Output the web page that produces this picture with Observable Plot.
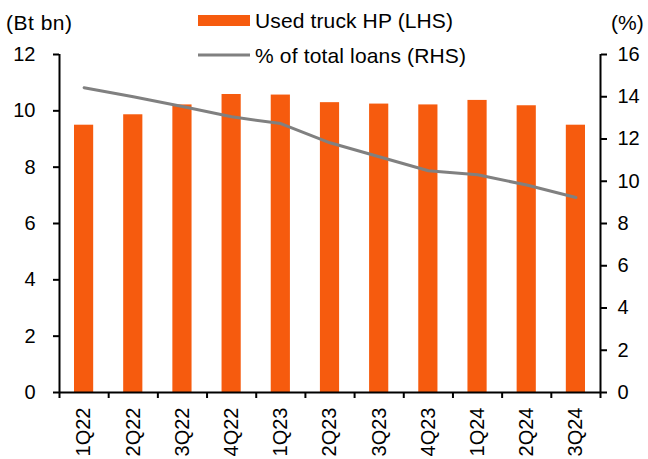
<!DOCTYPE html>
<html>
<head>
<meta charset="utf-8">
<script src="https://cdn.jsdelivr.net/npm/d3@7"></script>
<script src="https://cdn.jsdelivr.net/npm/@observablehq/plot@0.6"></script>
<style>
  html, body { margin: 0; padding: 0; background: #fff; }
  #chart { width: 648px; height: 459px; }
</style>
</head>
<body>
<div id="chart"></div>
<script>
const quarters = ["1Q22","2Q22","3Q22","4Q22","1Q23","2Q23","3Q23","4Q23","1Q24","2Q24","3Q24"];
const truckHP = [9.49, 9.86, 10.21, 10.58, 10.56, 10.29, 10.24, 10.21, 10.37, 10.18, 9.49];
const pctLoans = [14.43, 14.0, 13.54, 13.05, 12.73, 11.82, 11.16, 10.5, 10.31, 9.82, 9.23];
const leftTicks = [0, 2, 4, 6, 8, 10, 12];
const rightTicks = [0, 2, 4, 6, 8, 10, 12, 14, 16];
const leftLabel = "(Bt bn)";
const rightLabel = "(%)";
const barName = "Used truck HP (LHS)";
const lineName = "% of total loans (RHS)";

const orange = "#f65b0e";
const gray = "#808080";
const k = 12 / 16; // right axis -> left axis

const data = quarters.map((q, i) => ({q, i, hp: truckHP[i], pct: pctLoans[i]}));

const svg = Plot.plot({
  width: 648,
  height: 459,
  marginLeft: 59,
  marginRight: 48,
  marginTop: 54,
  marginBottom: 67,
  x: {domain: [0, 11], axis: null},
  y: {domain: [0, 12], axis: null},
  style: {fontFamily: "'Liberation Sans', Arial, sans-serif", fontSize: "20px", color: "#000", background: "#fff"},
  marks: [
    Plot.rectY(data, {x1: d => d.i + 0.305, x2: d => d.i + 0.695, y: "hp", fill: orange}),
    Plot.line(data, {x: d => d.i + 0.5, y: d => d.pct * k, stroke: gray, strokeWidth: 3}),
    Plot.ruleX([0, 11], {stroke: "#000", strokeWidth: 2}),
    Plot.ruleY([0], {stroke: "#000", strokeWidth: 2}),
    Plot.axisY({ticks: leftTicks, anchor: "left", label: null, tickSize: 6, tickPadding: 18, strokeWidth: 2, fontSize: 20}),
    Plot.axisY({ticks: rightTicks.map(v => v * k), anchor: "right", label: null, tickSize: 6, tickPadding: 11, strokeWidth: 2, fontSize: 20,
      tickFormat: v => String(Math.round(v / k))}),
    Plot.axisX({ticks: d3.range(12), label: null, tickSize: 6, strokeWidth: 2, tickFormat: () => ""}),
    Plot.axisX({ticks: quarters.map((q, i) => i + 0.5), label: null, tickSize: 0, tickPadding: 15, tickRotate: -90, fontSize: 20,
      tickFormat: v => quarters[Math.floor(v)]})
  ]
});

const s = d3.select(svg);
const font = "'Liberation Sans', Arial, sans-serif";
function addText(str, x, y, len) {
  const t = s.append("text").attr("x", x).attr("y", y)
    .attr("font-family", font).attr("font-size", 21).attr("fill", "#000")
    .attr("text-anchor", "start").text(str);
  if (len) t.attr("textLength", len).attr("lengthAdjust", "spacing");
  return t;
}
addText(leftLabel, 6, 30, 66);
addText(rightLabel, 611, 30);
s.append("rect").attr("x", 198).attr("y", 15).attr("width", 52).attr("height", 11).attr("fill", orange);
addText(barName, 255, 28, 198);
s.append("line").attr("x1", 198).attr("x2", 250).attr("y1", 55).attr("y2", 55).attr("stroke", gray).attr("stroke-width", 3);
addText(lineName, 255, 63, 211);

document.getElementById("chart").appendChild(svg);
</script>
</body>
</html>
